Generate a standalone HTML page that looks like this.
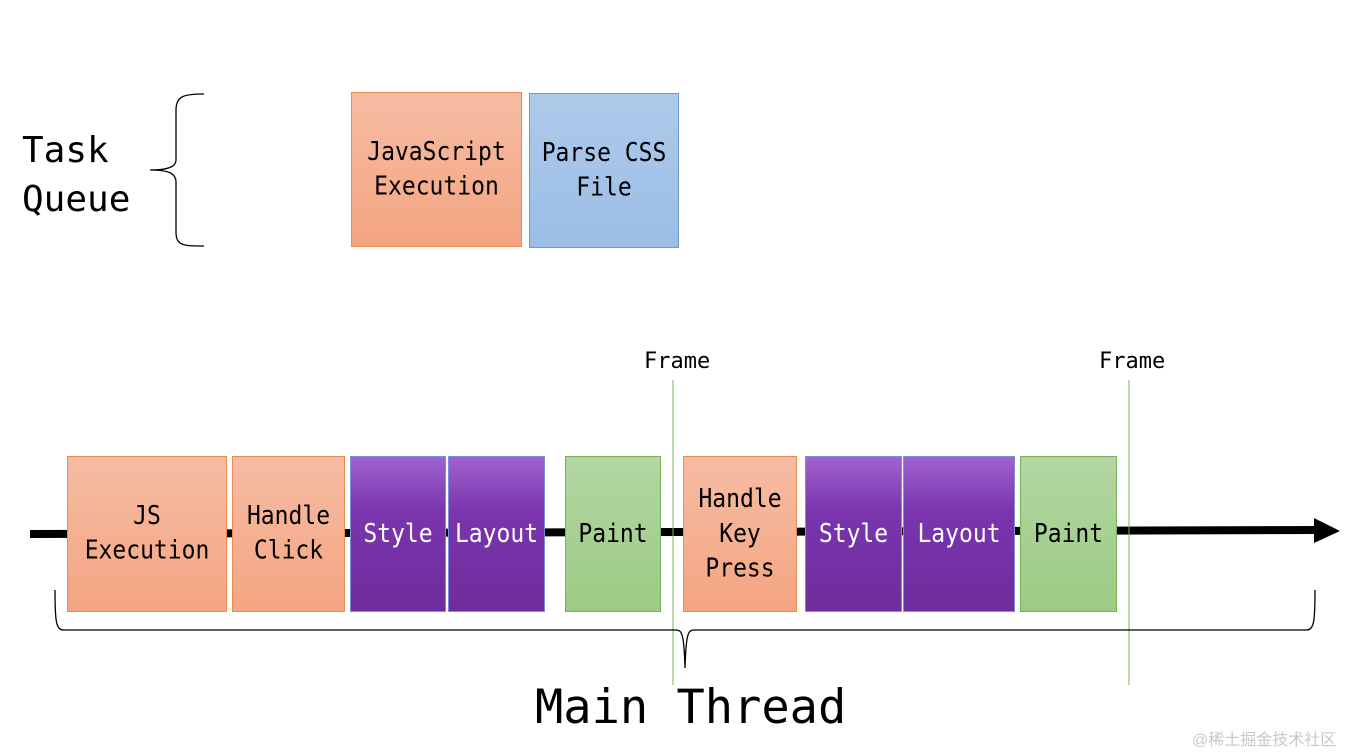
<!DOCTYPE html>
<html><head><meta charset="utf-8"><style>
html,body{margin:0;padding:0;background:#fff;width:1359px;height:753px;overflow:hidden;position:relative}
.t{position:absolute;font-family:"DejaVu Sans Mono","Liberation Mono",monospace;color:#000}
.b{position:absolute;box-sizing:border-box;display:flex;align-items:center;justify-content:center;text-align:center;font-family:"DejaVu Sans Mono","Liberation Mono",monospace;font-size:23px;line-height:31px}
.b span{display:inline-block;transform:scaleY(1.12)}
.o{background:linear-gradient(#f6bca3,#f4a582);border:1px solid #ed8a4e;color:#000}
.bl{background:linear-gradient(#aecaea,#9bbde6);border:1px solid #6d9bd0;color:#000}
.p{background:linear-gradient(#a063d0 0%,#7a35ae 35%,#6e2c9c 100%);border:1px solid #7b8fd8;color:#fff}
.g{background:linear-gradient(#b3d6a2,#9ccb83);border:1px solid #77b25a;color:#000}
</style></head><body>
<div class="t" style="left:22px;top:126px;font-size:36px;line-height:49px">Task<br>Queue</div>
<svg style="position:absolute;left:0;top:0" width="1359" height="753">
<path d="M204,94 C184,94 176,96 176,110 L176,160 C176,166 170,170 150,170 C170,170 176,174 176,182 L176,232 C176,246 184,246 204,246" fill="none" stroke="#000" stroke-width="1.3"/>
<line x1="30" y1="534" x2="1316" y2="530" stroke="#000" stroke-width="8"/>
<polygon points="1314,518 1340,531 1314,543" fill="#000"/>
<line x1="673" y1="380" x2="673" y2="685" stroke="#7ab55c" stroke-width="1"/>
<line x1="1129" y1="380" x2="1129" y2="685" stroke="#7ab55c" stroke-width="1"/>
<path d="M55,590 C55,622 56,630 64,630 L676,630 C682,630 684,634 685,668 C686,634 688,630 694,630 L1306,630 C1314,630 1315,622 1315,590" fill="none" stroke="#000" stroke-width="1.3"/>
</svg>
<div class="b o" style="left:351px;top:92px;width:171px;height:155px"><span>JavaScript<br>Execution</span></div>
<div class="b bl" style="left:529px;top:93px;width:150px;height:155px"><span>Parse CSS<br>File</span></div>
<div class="t" style="left:644px;top:349px;font-size:22px">Frame</div>
<div class="t" style="left:1099px;top:349px;font-size:22px">Frame</div>
<div class="b o" style="left:67px;top:456px;width:160px;height:156px"><span>JS<br>Execution</span></div>
<div class="b o" style="left:232px;top:456px;width:113px;height:156px"><span>Handle<br>Click</span></div>
<div class="b p" style="left:350px;top:456px;width:96px;height:156px"><span>Style</span></div>
<div class="b p" style="left:448px;top:456px;width:97px;height:156px"><span>Layout</span></div>
<div class="b g" style="left:565px;top:456px;width:96px;height:156px"><span>Paint</span></div>
<div class="b o" style="left:683px;top:456px;width:114px;height:156px"><span>Handle<br>Key<br>Press</span></div>
<div class="b p" style="left:805px;top:456px;width:97px;height:156px"><span>Style</span></div>
<div class="b p" style="left:903px;top:456px;width:112px;height:156px"><span>Layout</span></div>
<div class="b g" style="left:1020px;top:456px;width:97px;height:156px"><span>Paint</span></div>
<div class="t" style="left:535px;top:680px;font-size:47px;line-height:56px">Main Thread</div>
<div class="t" style="left:1192px;top:726px;font-size:16px;color:#c8c8c8;font-family:'Liberation Sans','Noto Sans CJK SC',sans-serif">@稀土掘金技术社区</div>
</body></html>
